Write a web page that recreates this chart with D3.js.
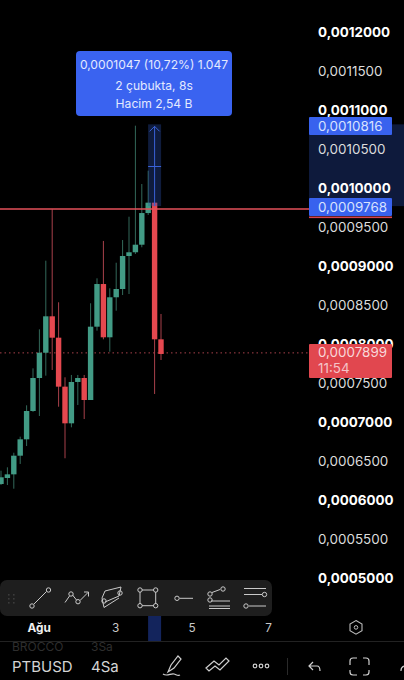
<!DOCTYPE html>
<html><head><meta charset="utf-8">
<script src="https://cdn.jsdelivr.net/npm/d3@7"></script>
<style>html,body{margin:0;padding:0;background:#000;overflow:hidden}svg{display:block}text{font-family:Inter,"Noto Sans",sans-serif}</style>
</head><body><svg id="c" width="404" height="680"></svg>
<script>
// Values in units of 1e-7 price
const opens  = [6205,6282,6329,6568,6778,7141,7564,7888,8355,8081,7453,6983,7513,7564,7282,8222,8769,8086,8599,8705,9128,9176,9273,9679,9812,8060];
const closes = [6291,6329,6568,6778,7141,7564,7888,8355,8081,7453,6983,7513,7564,7282,8222,8769,8086,8599,8705,9128,9176,9273,9679,9812,8060,7872];
const highs  = [6376,6419,6606,6812,7214,7688,8188,9068,9727,8535,7573,7603,7603,7603,8522,8842,9321,8714,9042,9333,9632,10799,10051,10222,9812,8385];
const lows   = [6192,6192,6145,6462,6692,7130,7077,7594,7667,7196,6535,6932,7218,7038,7282,8171,8060,7901,8427,8628,8641,9154,9240,9654,7359,7795];
const priceTicks = d3.range(5000,12001,500);
const timeTicks = [[5.95,"Ağu",true],[17.9,"3",false],[29.85,"5",false],[41.8,"7",false]];
const levelHigh = 10816, levelLow = 9768, levelLine = 9731, lastPrice = 7899;

const svg = d3.select("#c");
const y = d3.scaleLinear().domain([12000,5000]).range([32,578]);
const x = d3.scaleLinear().domain([0,25]).range([1,161]);
const GREEN="#429b85", RED="#e5484f", GW="#33695a", RW="#a8414a";

// Axis measurement band
svg.append("rect").attr("x",309).attr("width",95).attr("y",y(levelHigh)).attr("height",y(levelLow)-y(levelHigh)).attr("fill","#0e1a3c");

// Last-price dotted line
svg.append("line").attr("x1",0).attr("x2",309).attr("y1",y(lastPrice)+1).attr("y2",y(lastPrice)+1)
  .attr("stroke","#a8414a").attr("stroke-width",1).attr("stroke-dasharray","1.5 3");

// Candles
const idx = d3.range(opens.length);
const g = svg.append("g");
g.selectAll("line.w").data(idx).join("line").attr("class","w")
  .attr("x1",i=>x(i)).attr("x2",i=>x(i)).attr("y1",i=>y(highs[i])).attr("y2",i=>y(lows[i]))
  .attr("stroke",i=>closes[i]>=opens[i]?GW:RW).attr("stroke-width",1);
g.selectAll("rect.b").data(idx).join("rect").attr("class","b")
  .attr("x",i=>x(i)-2.7).attr("width",5.4)
  .attr("y",i=>y(Math.max(opens[i],closes[i])))
  .attr("height",i=>Math.max(1,Math.abs(y(opens[i])-y(closes[i]))))
  .attr("fill",i=>closes[i]>=opens[i]?GREEN:RED);

// Measure overlay
const bx = x(24);
svg.append("rect").attr("x",bx-6.5).attr("width",13).attr("y",y(levelHigh)).attr("height",y(levelLow)-y(levelHigh)).attr("fill","#2c4fb0").attr("opacity",.35);
svg.append("line").attr("x1",bx).attr("x2",bx).attr("y1",y(levelLow)).attr("y2",y(levelHigh)+2).attr("stroke","#3a62d8").attr("stroke-width",1);
svg.append("path").attr("d",`M${bx-5},${y(levelHigh)+7}L${bx},${y(levelHigh)+2}L${bx+5},${y(levelHigh)+7}`).attr("fill","none").attr("stroke","#3a62d8");
svg.append("line").attr("x1",bx-6.5).attr("x2",bx+6.5).attr("y1",166.5).attr("y2",166.5).attr("stroke","#3a62d8");

// Horizontal level
svg.append("line").attr("x1",0).attr("x2",392).attr("y1",y(levelLine)).attr("y2",y(levelLine)).attr("stroke","#e5505a").attr("stroke-width",1.6);

// Price axis
const axis = d3.axisRight(y).tickValues(priceTicks).tickSize(0).tickPadding(0)
  .tickFormat(d=>"0,"+String(d).padStart(7,"0"));
const ag = svg.append("g").attr("transform","translate(318,0)").call(axis);
ag.select(".domain").remove();
ag.selectAll("text").attr("font-size",13.4).attr("fill",d=>d%1000===0?"#fff":"#dcdcdc").attr("font-weight",d=>d%1000===0?700:400)
  .style("font-family","Inter,sans-serif");

// Axis label boxes
function box(yy,h,fill){svg.append("rect").attr("x",309).attr("width",83).attr("y",yy).attr("height",h).attr("fill",fill).attr("rx",1);}
function lab(t,yy,c){svg.append("text").attr("x",318).attr("y",yy).attr("font-size",13.4).attr("fill",c).text(t);}
box(117,18,"#3862ee"); lab("0,0010816",130.5,"#d8e2ff");
box(198,18,"#3862ee"); lab("0,0009768",211.5,"#d8e2ff");
svg.append("rect").attr("x",309).attr("width",83).attr("y",216.5).attr("height",1.6).attr("fill","#d6454e");
box(344,34,"#e1474f"); lab("0,0007899",357,"#f8d8da"); lab("11:54",373,"#f4c4c8");

// Tooltip
svg.append("rect").attr("x",76).attr("y",51).attr("width",156).attr("height",65).attr("rx",4).attr("fill","#3a63f0");
[["0,0001047 (10,72%) 1.047",69],["2 çubukta, 8s",89.5],["Hacim 2,54 B",107.5]].forEach(([t,yy])=>
  svg.append("text").attr("x",154).attr("y",yy).attr("text-anchor","middle").attr("font-size",12.1).attr("fill","#e3e9ff").text(t));

// Time axis
svg.append("rect").attr("x",bx-6.5).attr("y",616).attr("width",13).attr("height",25).attr("fill","#13245c");
svg.append("line").attr("x1",0).attr("x2",404).attr("y1",641.5).attr("y2",641.5).attr("stroke","#222");
svg.append("g").selectAll("text").data(timeTicks).join("text")
  .attr("x",d=>x(d[0])).attr("y",632).attr("text-anchor","middle").attr("font-size",11.8)
  .attr("font-weight",d=>d[2]?700:400).attr("fill",d=>d[2]?"#f0f0f0":"#c8c8c8").text(d=>d[1]);
svg.append("path").attr("d","M356,620.6l6,3.4v6.8l-6,3.4l-6,-3.4v-6.8z").attr("fill","none").attr("stroke","#bbb").attr("stroke-width",1.1);
svg.append("circle").attr("cx",356).attr("cy",627.4).attr("r",1.8).attr("fill","none").attr("stroke","#bbb");

// Drawing toolbar
svg.append("rect").attr("x",0).attr("y",580).attr("width",272).attr("height",36).attr("rx",7).attr("fill","#1e1e1e");
const tb = svg.append("g").attr("fill","none").attr("stroke","#c9c9c9").attr("stroke-width",1);
const gr = svg.append("g").attr("fill","#3c3c3c");
[8,13].forEach(a=>[594,598,602].forEach(b=>gr.append("rect").attr("x",a).attr("y",b).attr("width",1.6).attr("height",1.6)));
const P=(d)=>tb.append("path").attr("d",d);
const C=(a,b)=>tb.append("circle").attr("cx",a).attr("cy",b).attr("r",2.2);
P("M34,604L46.5,591.5");C(32,606);C(48.5,590);
P("M65,602.5L69.5,596M72.5,595L76.5,600M80,600.5L88,592.5M84,592h4.5v4.5");C(71,594);C(78,601.7);
P("M102,598L105,591L121,587L119,596L105,602M104,607.5L102,598M104,607.5L119,598");C(104,601);C(120,593);
P("M142,590H154M142,605.7H154M140,592V604M155.7,592V604");C(140,590);C(155.7,590);C(140,605.7);C(155.7,605.7);
P("M179.5,598.3H193");C(177,598.3);
P("M212,592.5L220,589.5M211,601H230M209,606H230M209,608.5H230");C(210,594);C(210,600);C(223,589);
P("M244,588.5H266M244,594.5H262M249,606H266");C(264.5,594.5);C(246,606);

// Bottom bar
svg.append("text").attr("x",12).attr("y",651).attr("font-size",12).attr("fill","#2e2e2e").text("BROCCO");
svg.append("text").attr("x",91).attr("y",651).attr("font-size",12).attr("fill","#2e2e2e").text("3Sa");
svg.append("rect").attr("x",73).attr("y",642).attr("width",12).attr("height",12).attr("fill","#000");
svg.append("text").attr("x",12).attr("y",672).attr("font-size",15).attr("fill","#d4d4d4").text("PTBUSD");
svg.append("text").attr("x",91).attr("y",672).attr("font-size",15).attr("fill","#d4d4d4").text("4Sa");
const bt = svg.append("g").attr("fill","none").attr("stroke","#cfcfcf").attr("stroke-width",1.2);
bt.append("path").attr("d","M168,672L171,665L178,656L181,659L174,668Z M163,674c4,3,8,-1,11,0s4,2,6,1");
bt.append("path").attr("d","M206,668L214,661L219,665L226,658L229,661L220,670L215,666L209,671Z");
[255,261,267].forEach(a=>bt.append("circle").attr("cx",a).attr("cy",666).attr("r",1.8));
svg.append("line").attr("x1",287.5).attr("x2",287.5).attr("y1",658).attr("y2",675).attr("stroke","#2a2a2a");
bt.append("path").attr("d","M313,662l-4,4l4,4M309,666h8c2,0,3,2,3,5");
bt.append("path").attr("d","M350,665v-4a3,3 0 0 1 3,-3h4M363,658h3a3,3 0 0 1 3,3v4M369,670v2a3,3 0 0 1 -3,3h-3M357,675h-4a3,3 0 0 1 -3,-3v-2");
bt.append("path").attr("d","M404,666a5,5 0 0 0 -3,5");
</script></body></html>
